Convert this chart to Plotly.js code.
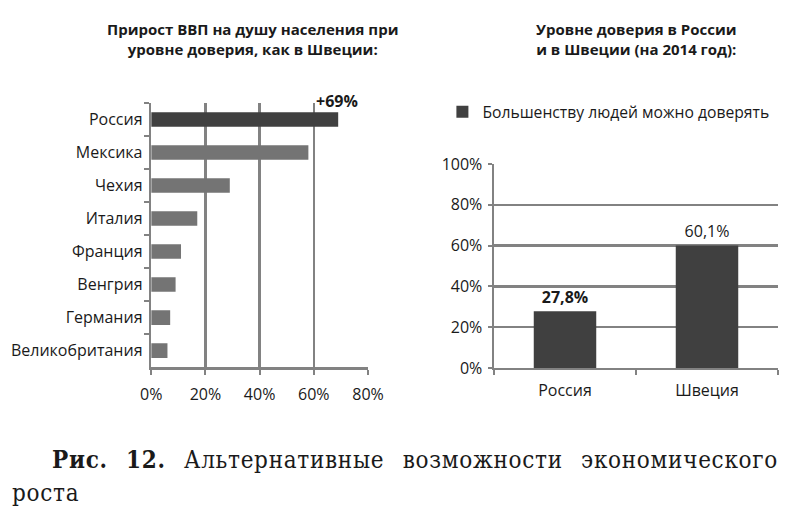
<!DOCTYPE html>
<html>
<head>
<meta charset="utf-8">
<script src="https://cdn.plot.ly/plotly-3.0.1.min.js"></script>
<style>
  html, body { margin: 0; padding: 0; background: #fff; }
  #wrap { position: relative; width: 800px; height: 523px; overflow: hidden; }
  #chart { position: absolute; left: 0; top: 0; width: 800px; height: 523px; }
  #caption {
    position: absolute; left: 12px; top: 443px; width: 766px;
    font-family: "DejaVu Serif Condensed", "DejaVu Serif", "Liberation Serif", serif;
    font-size: 24px; line-height: 33px; color: #1a1a1a; letter-spacing: 0.7px;
  }
  #caption .l1 { display: block; text-align: justify; text-align-last: justify; padding-left: 40px; }
  #caption .l2 { display: block; }
</style>
</head>
<body>
<div id="wrap">
  <div id="chart"></div>
  <div id="caption"><span class="l1"><b>Рис.</b> <b>12.</b> Альтернативные возможности экономического</span><span class="l2">роста</span></div>
</div>
<script>
// ---- Data: left chart (GDP per capita growth at Swedish trust level) ----
const leftCategories = ["Россия", "Мексика", "Чехия", "Италия", "Франция", "Венгрия", "Германия", "Великобритания"];
const leftValues = [69, 58, 29, 17, 11, 9, 7, 6];
const leftHighlight = "Россия";
const leftTicks = [0, 20, 40, 60, 80];

// ---- Data: right chart (trust level in Russia and Sweden, 2014) ----
const rightCategories = ["Россия", "Швеция"];
const rightValues = [27.8, 60.1];
const rightSeriesName = "Большенству людей можно доверять";
const rightTicks = [0, 20, 40, 60, 80, 100];

const leftTitle = "Прирост ВВП на душу населения при<br>уровне доверия, как в Швеции:";
const rightTitle = "Уровне доверия в России<br>и в Швеции (на 2014 год):";

const FONT = "Open Sans, Noto Sans, sans-serif";
const TXT = "#1a1a1a";
const GRID = "#828282";
const DARK = "#404040";
const MID = "#747474";
const FS = 16;

const fmtComma = v => v.toFixed(1).replace(".", ",") + "%";

const leftTrace = {
  type: "bar", orientation: "h",
  x: leftValues, y: leftCategories,
  xaxis: "x", yaxis: "y",
  marker: { color: leftCategories.map(c => c === leftHighlight ? DARK : MID) },
  showlegend: false, hoverinfo: "x+y"
};

const rightTrace = {
  type: "bar",
  x: rightCategories, y: rightValues,
  xaxis: "x2", yaxis: "y2",
  name: rightSeriesName,
  marker: { color: DARK },
  text: rightValues.map((v, i) => i === 0 ? "<b>" + fmtComma(v) + "</b>" : fmtComma(v)),
  textposition: "outside",
  cliponaxis: false,
  textfont: { family: FONT, size: FS, color: TXT },
  showlegend: true
};

const hi = leftCategories.indexOf(leftHighlight);

const layout = {
  width: 800, height: 523,
  margin: { l: 0, r: 0, t: 0, b: 0 },
  paper_bgcolor: "#fff", plot_bgcolor: "#fff",
  font: { family: FONT, size: FS, color: TXT },
  bargap: 0.56,
  showlegend: true,
  legend: {
    x: 0.553, y: 0.786, xanchor: "left", yanchor: "middle",
    font: { family: FONT, size: 15.7, color: TXT },
    bgcolor: "rgba(0,0,0,0)"
  },
  xaxis: {
    domain: [0.189, 0.46], anchor: "y",
    range: [0, 80], tickvals: leftTicks, ticktext: leftTicks.map(v => v + "%"),
    showgrid: true, gridcolor: GRID, gridwidth: 2.5,
    showline: true, linecolor: GRID, linewidth: 2.5,
    ticks: "outside", ticklen: 5, tickwidth: 2, tickcolor: GRID,
    ticklabelstandoff: 6,
    zeroline: false, fixedrange: true,
    tickfont: { family: FONT, size: FS, color: TXT }
  },
  yaxis: {
    domain: [0.298, 0.803], anchor: "x",
    type: "category", categoryorder: "array", categoryarray: leftCategories,
    autorange: "reversed",
    showline: true, linecolor: GRID, linewidth: 2.5,
    ticks: "outside", tickson: "boundaries", ticklen: 5, tickwidth: 2, tickcolor: GRID,
    ticklabelstandoff: 3,
    showgrid: false, zeroline: false, fixedrange: true,
    tickfont: { family: FONT, size: FS, color: TXT }
  },
  xaxis2: {
    domain: [0.6175, 0.9725], anchor: "y2",
    type: "category",
    showline: true, linecolor: GRID, linewidth: 2.5,
    ticks: "outside", tickson: "boundaries", ticklen: 5, tickwidth: 2, tickcolor: GRID,
    ticklabelstandoff: 6,
    showgrid: false, zeroline: false, fixedrange: true,
    tickfont: { family: FONT, size: FS, color: TXT }
  },
  yaxis2: {
    domain: [0.2964, 0.6864], anchor: "x2",
    range: [0, 100], tickvals: rightTicks, ticktext: rightTicks.map(v => v + "%"),
    showgrid: true, gridcolor: GRID, gridwidth: 2.5,
    showline: true, linecolor: GRID, linewidth: 2.5,
    ticks: "outside", ticklen: 4, tickwidth: 2, tickcolor: GRID,
    ticklabelstandoff: 2,
    zeroline: false, fixedrange: true,
    tickfont: { family: FONT, size: FS, color: TXT }
  },
  annotations: [
    {
      xref: "paper", yref: "paper", x: 253 / 800, y: 1 - 39 / 523,
      xanchor: "center", yanchor: "middle", showarrow: false, align: "center",
      text: "<b>" + leftTitle + "</b>",
      font: { family: FONT, size: 15, color: TXT }
    },
    {
      xref: "paper", yref: "paper", x: 636 / 800, y: 1 - 39 / 523,
      xanchor: "center", yanchor: "middle", showarrow: false, align: "center",
      text: "<b>" + rightTitle + "</b>",
      font: { family: FONT, size: 15, color: TXT }
    },
    {
      xref: "x", yref: "y", x: leftValues[hi], y: leftCategories[hi],
      xanchor: "center", yanchor: "middle", xshift: -1, yshift: 19, showarrow: false,
      text: "<b>+" + leftValues[hi] + "%</b>",
      font: { family: FONT, size: FS, color: TXT }
    }
  ]
};

Plotly.newPlot("chart", [leftTrace, rightTrace], layout, { displayModeBar: false, staticPlot: true });
</script>
</body>
</html>
